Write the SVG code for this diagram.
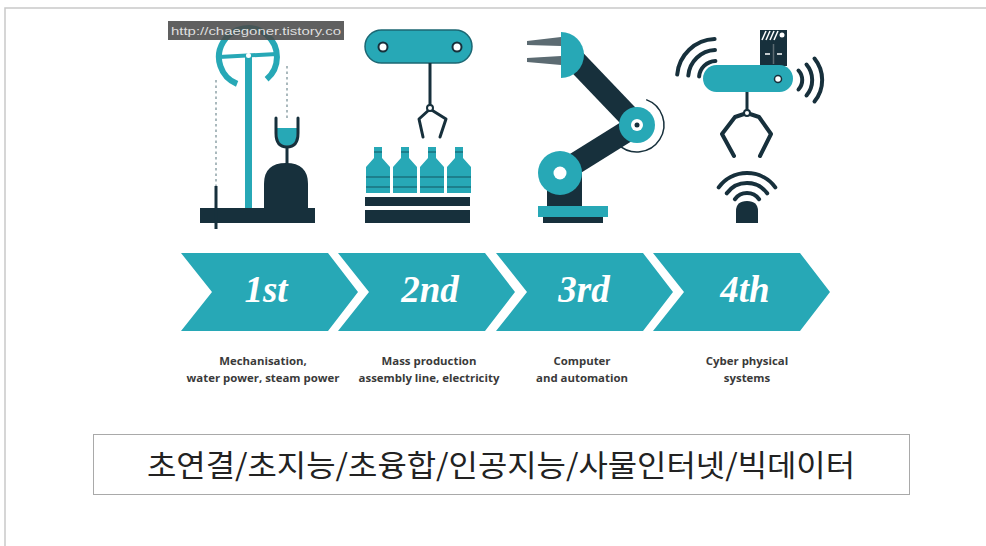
<svg xmlns="http://www.w3.org/2000/svg" width="986" height="546" viewBox="0 0 986 546">
  <defs>
    <style>
      .teal { fill: #27a8b6; }
      .dark { fill: #17303c; }
      .dk-line { stroke: #17303c; fill: none; stroke-linecap: round; stroke-linejoin: round; }
      .wave { stroke: #17303c; fill: none; stroke-width: 4; stroke-linecap: round; }
      .stage { font-family: "Liberation Serif", "DejaVu Serif", serif; font-style: italic; font-weight: bold; font-size: 37px; fill: #ffffff; text-anchor: middle; }
      .caption { font-family: "Open Sans", "Liberation Sans", sans-serif; font-weight: 700; font-size: 11.4px; fill: #3a3a3a; text-anchor: middle; }
      .keywords { font-family: "Noto Sans CJK KR", "Noto Sans", sans-serif; font-size: 30px; fill: #222222; text-anchor: middle; }
    </style>
    <polygon id="chevron" points="0,0 147,0 177,39 147,78 0,78 31,39"/>
  </defs>

  <rect width="986" height="546" fill="#ffffff"/>
  <!-- frame lines -->
  <path d="M5,546 V8 H986" fill="none" stroke="#c9c9c9" stroke-width="1.5"/>

  <!-- 1st: mechanisation -->
  <g id="icon-mechanisation">
    <line x1="216" y1="80" x2="216" y2="186" stroke="#8fa2a8" stroke-width="1.5" stroke-dasharray="2.5,3"/>
    <line x1="287" y1="66" x2="287" y2="120" stroke="#8fa2a8" stroke-width="1.5" stroke-dasharray="2.5,3"/>
    <path d="M237.1,83.9 A29,29 0 1 1 266.6,79.2" fill="none" stroke="#27a8b6" stroke-width="6"/>
    <line x1="219" y1="57" x2="277" y2="54" stroke="#27a8b6" stroke-width="4"/>
    <rect class="teal" x="245" y="57" width="7" height="152"/>
    <circle cx="248.5" cy="55.5" r="2.5" fill="#ffffff"/>
    <path d="M277,128 H297 V133 Q297,146 287,146 Q277,146 277,133 Z" class="teal"/>
    <path class="dk-line" stroke-width="3" d="M276,118 V133 Q276,147 287,147 Q298,147 298,133 V118"/>
    <line x1="287" y1="147" x2="287" y2="164" stroke="#17303c" stroke-width="3"/>
    <path class="dark" d="M264,209 V184 Q264,163 286,163 Q308,163 308,184 V209 Z"/>
    <rect class="dark" x="200" y="208" width="115" height="15"/>
    <line x1="216" y1="186" x2="216" y2="229" stroke="#17303c" stroke-width="3"/>
  </g>

  <!-- 2nd: mass production -->
  <g id="icon-mass-production">
    <rect x="365" y="30" width="107" height="33" rx="16.5" fill="#27a8b6" stroke="#1c6773" stroke-width="1.5"/>
    <circle cx="383" cy="47" r="4.5" fill="#ffffff" stroke="#17303c" stroke-width="2"/>
    <circle cx="457" cy="47" r="4.5" fill="#ffffff" stroke="#17303c" stroke-width="2"/>
    <line x1="430" y1="63" x2="430" y2="105" stroke="#17303c" stroke-width="3"/>
    <path class="dk-line" stroke-width="3" d="M430,109 L419,119 L423,137 M430,109 L446,119 L440,137"/>
    <circle cx="430" cy="108" r="3" fill="#ffffff" stroke="#17303c" stroke-width="2"/>
    <g class="teal">
      <path d="M374,147 H382 V158 L390,167 V193 H366 V167 L374,158 Z"/>
      <path d="M401,147 H409 V158 L417,167 V193 H393 V167 L401,158 Z"/>
      <path d="M428,147 H436 V158 L444,167 V193 H420 V167 L428,158 Z"/>
      <path d="M455,147 H463 V158 L471,167 V193 H447 V167 L455,158 Z"/>
    </g>
    <g stroke="#1c7f8c" stroke-width="2">
      <line x1="366" y1="177" x2="390" y2="177"/><line x1="366" y1="187" x2="390" y2="187"/>
      <line x1="393" y1="177" x2="417" y2="177"/><line x1="393" y1="187" x2="417" y2="187"/>
      <line x1="420" y1="177" x2="444" y2="177"/><line x1="420" y1="187" x2="444" y2="187"/>
      <line x1="447" y1="177" x2="471" y2="177"/><line x1="447" y1="187" x2="471" y2="187"/>
      <line x1="374" y1="152" x2="382" y2="152"/><line x1="401" y1="152" x2="409" y2="152"/>
      <line x1="428" y1="152" x2="436" y2="152"/><line x1="455" y1="152" x2="463" y2="152"/>
    </g>
    <rect class="dark" x="365" y="197" width="105" height="9"/>
    <rect class="dark" x="365" y="210" width="105" height="13"/>
  </g>

  <!-- 3rd: robot arm -->
  <g id="icon-automation">
    <path d="M646.2,99.6 A27,27 0 1 1 617.9,144.1" fill="none" stroke="#17303c" stroke-width="1.5"/>
    <polygon points="527,41 561,37 561,46 527,45" fill="#5c6b72"/>
    <polygon points="527,58 561,56 561,65 527,62" fill="#5c6b72"/>
    <line x1="637" y1="125" x2="572" y2="57" stroke="#17303c" stroke-width="22"/>
    <line x1="637" y1="125" x2="560" y2="173" stroke="#17303c" stroke-width="22"/>
    <rect class="dark" x="547" y="173" width="35" height="35"/>
    <path class="teal" d="M561,32 A23,23 0 0 1 561,78 Z"/>
    <circle class="teal" cx="637" cy="125" r="18"/>
    <circle cx="637" cy="125" r="6" fill="#ffffff"/>
    <circle class="dark" cx="637" cy="125" r="2.5"/>
    <circle class="teal" cx="560" cy="173" r="22"/>
    <circle cx="560" cy="173" r="6.5" fill="#ffffff"/>
    <rect class="teal" x="538" y="206" width="70" height="11"/>
    <rect class="dark" x="543" y="217" width="60" height="6"/>
  </g>

  <!-- 4th: cyber physical -->
  <g id="icon-cyber-physical">
    <rect class="dark" x="760" y="30" width="27" height="36"/>
    <g stroke="#ffffff" stroke-width="1.5">
      <line x1="762" y1="40" x2="766" y2="31"/>
      <line x1="766" y1="40" x2="770" y2="31"/>
      <line x1="770" y1="40" x2="774" y2="31"/>
      <line x1="774" y1="40" x2="778" y2="31"/>
      <line x1="765" y1="54" x2="770" y2="54"/>
      <line x1="777" y1="54" x2="782" y2="54"/>
      <line x1="773.5" y1="44" x2="773.5" y2="64" stroke="#5c6b72"/>
    </g>
    <circle cx="782" cy="35" r="2.5" fill="#ffffff"/>
    <rect class="teal" x="703" y="65" width="90" height="27" rx="13.5"/>
    <circle cx="778" cy="79" r="3.5" fill="#ffffff" stroke="#17303c" stroke-width="1.5"/>
    <path class="wave" d="M677.2,74.6 A39,39 0 0 1 714.6,39.0 M688.3,75.6 A28,28 0 0 1 715.0,50.0 M699.1,76.5 A17,17 0 0 1 715.4,61.0"/>
    <path class="wave" d="M798.5,70.5 A14,14 0 0 1 798.5,89.5 M806.5,64.5 A24,24 0 0 1 806.5,95.5 M814.5,58.5 A34,34 0 0 1 814.5,101.5"/>
    <line x1="747" y1="92" x2="747" y2="110" stroke="#17303c" stroke-width="3"/>
    <path class="dk-line" stroke-width="4" d="M747,113 L735,117 L722,134 L734,156 M747,113 L759,117 L771,134 L760,156"/>
    <circle cx="747" cy="113" r="3" fill="#ffffff" stroke="#17303c" stroke-width="2"/>
    <path class="wave" d="M718.7,187.4 A35,35 0 0 1 775.3,187.4 M726.8,193.3 A25,25 0 0 1 767.2,193.3 M734.9,199.2 A15,15 0 0 1 759.1,199.2"/>
    <path class="dark" d="M736,223 V211 Q736,201 747,201 Q758,201 758,211 V223 Z"/>
  </g>

  <!-- stage chevrons -->
  <g id="stage-1">
    <use href="#chevron" x="181" y="253" class="teal"/>
    <text class="stage" x="266" y="302">1st</text>
  </g>
  <g id="stage-2">
    <use href="#chevron" x="338" y="253" class="teal"/>
    <text class="stage" x="430" y="302">2nd</text>
  </g>
  <g id="stage-3">
    <use href="#chevron" x="496" y="253" class="teal"/>
    <text class="stage" x="584" y="302">3rd</text>
  </g>
  <g id="stage-4">
    <use href="#chevron" x="653" y="253" class="teal"/>
    <text class="stage" x="745" y="302">4th</text>
  </g>

  <!-- captions -->
  <g id="caption-1">
    <text class="caption" x="263" y="365">Mechanisation,</text>
    <text class="caption" x="263" y="382">water power, steam power</text>
  </g>
  <g id="caption-2">
    <text class="caption" x="429" y="365">Mass production</text>
    <text class="caption" x="429" y="382">assembly line, electricity</text>
  </g>
  <g id="caption-3">
    <text class="caption" x="582" y="365">Computer</text>
    <text class="caption" x="582" y="382">and automation</text>
  </g>
  <g id="caption-4">
    <text class="caption" x="747" y="365">Cyber physical</text>
    <text class="caption" x="747" y="382">systems</text>
  </g>

  <!-- keyword box -->
  <g id="keywords">
    <rect x="93.5" y="434.5" width="816" height="60" fill="#ffffff" stroke="#a9a9a9" stroke-width="1"/>
    <text class="keywords" x="501" y="476" textLength="708" lengthAdjust="spacingAndGlyphs">초연결/초지능/초융합/인공지능/사물인터넷/빅데이터</text>
  </g>

  <!-- source tag -->
  <g id="source-tag">
    <rect x="168" y="21" width="176" height="19" fill="#4a4a4a" fill-opacity="0.88"/>
    <text x="171" y="35" font-family="Liberation Sans, Arial, sans-serif" font-size="11" fill="#dedede" textLength="170" lengthAdjust="spacingAndGlyphs">http://chaegoner.tistory.co</text>
  </g>
</svg>
